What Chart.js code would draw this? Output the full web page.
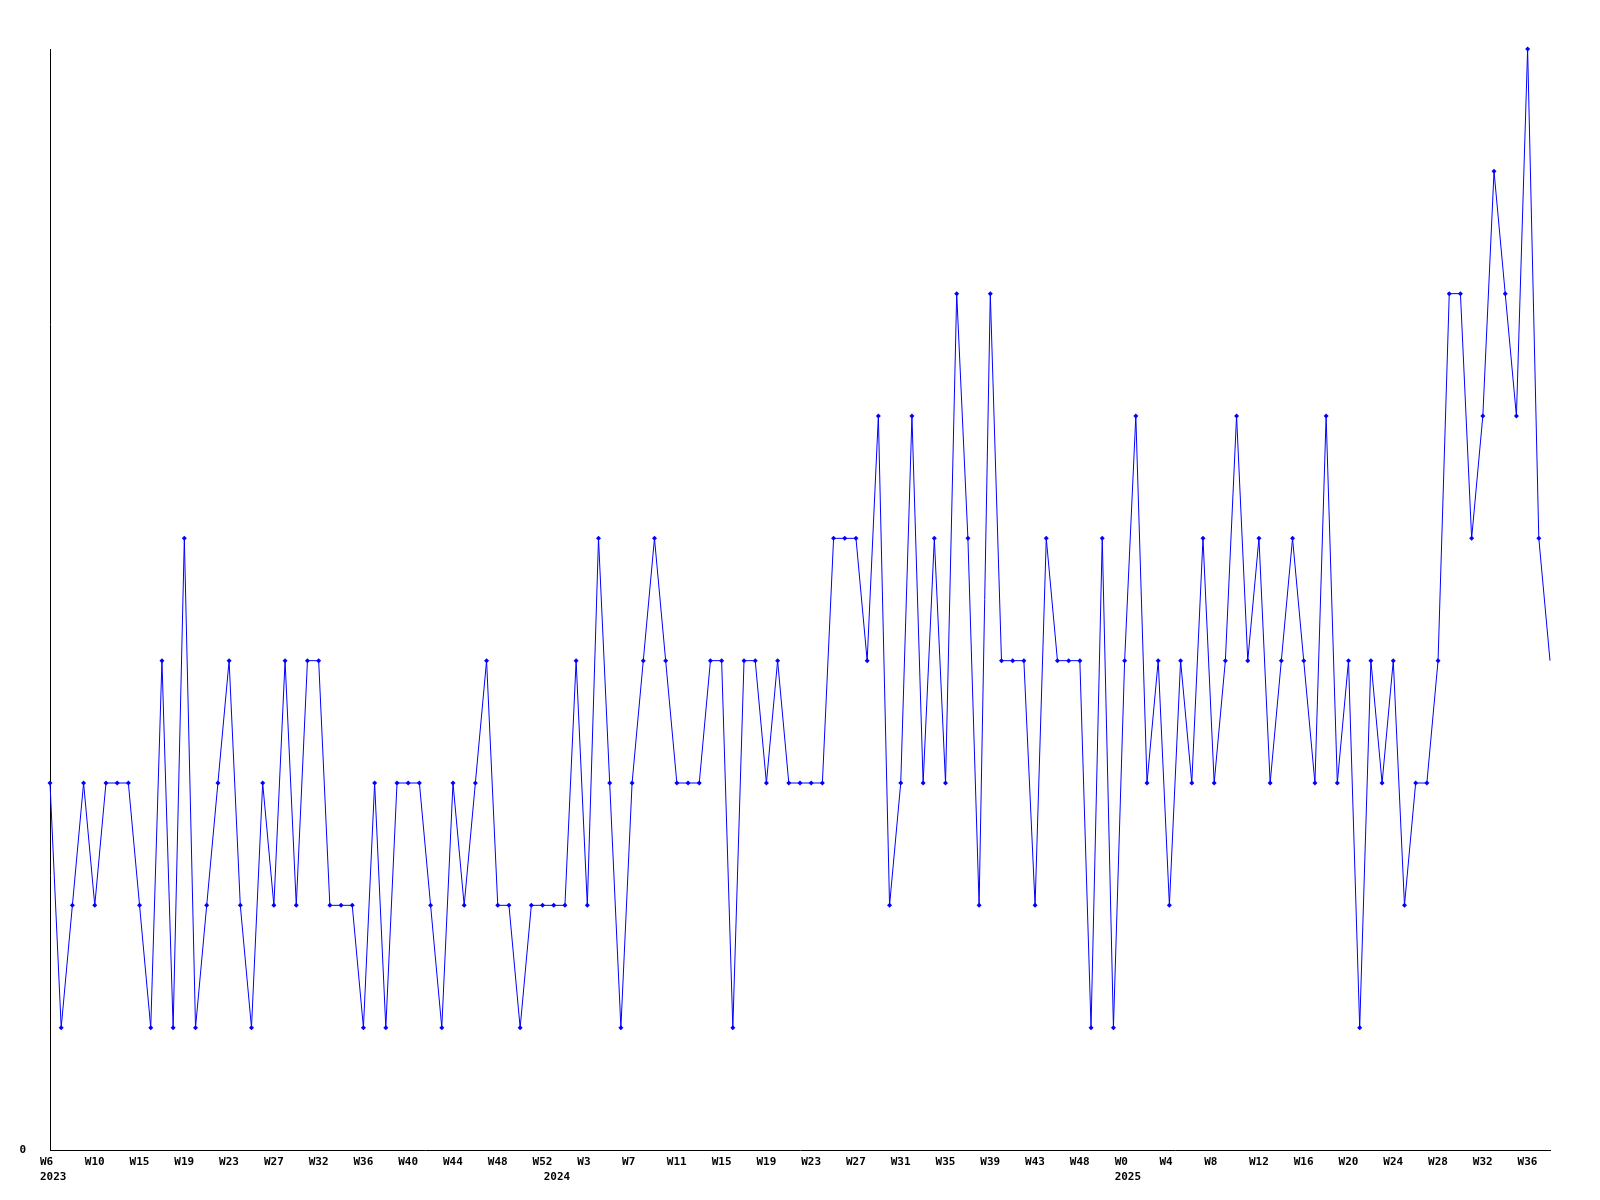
<!DOCTYPE html>
<html lang="en">
<head>
    <meta charset="UTF-8">
    <title>Weekly count</title>
    <script src="https://cdn.jsdelivr.net/npm/chart.js"></script>
    <style>
        body {
            margin: 0;
            padding: 0;
            background-color: #ffffff;
        }
        .chart-container {
            position: relative;
            width: 1600px;
            height: 1200px;
        }
    </style>
</head>
<body>

    <div class="chart-container">
        <canvas id="weekChart" width="1600" height="1200"></canvas>
    </div>

    <script>
        // Weekly values, one per week starting 2023 W6
        const weekValues = [
            3, 1, 2, 3, 2, 3, 3, 3, 2, 1,
            4, 1, 5, 1, 2, 3, 4, 2, 1, 3,
            2, 4, 2, 4, 4, 2, 2, 2, 1, 3,
            1, 3, 3, 3, 2, 1, 3, 2, 3, 4,
            2, 2, 1, 2, 2, 2, 2, 4, 2, 5,
            3, 1, 3, 4, 5, 4, 3, 3, 3, 4,
            4, 1, 4, 4, 3, 4, 3, 3, 3, 3,
            5, 5, 5, 4, 6, 2, 3, 6, 3, 5,
            3, 7, 5, 2, 7, 4, 4, 4, 2, 5,
            4, 4, 4, 1, 5, 1, 4, 6, 3, 4,
            2, 4, 3, 5, 3, 4, 6, 4, 5, 3,
            4, 5, 4, 3, 6, 3, 4, 1, 4, 3,
            4, 2, 3, 3, 4, 7, 7, 5, 6, 8,
            7, 6, 9, 5, 4
        ];

        // Tick labels, shown on every 4th week
        const weekTickLabels = [
            'W6', 'W10', 'W15', 'W19', 'W23', 'W27', 'W32', 'W36', 'W40', 'W44',
            'W48', 'W52', 'W3', 'W7', 'W11', 'W15', 'W19', 'W23', 'W27', 'W31',
            'W35', 'W39', 'W43', 'W48', 'W0', 'W4', 'W8', 'W12', 'W16', 'W20',
            'W24', 'W28', 'W32', 'W36'
        ];
        const tickEvery = 4;

        // Year labels and the week index where each year starts
        const yearLabels = ['2023', '2024', '2025'];
        const yearStartIndex = [0, 45, 96];

        const labels = weekValues.map((v, i) => i);

        function xLabel(index) {
            let week = (index % tickEvery === 0) ? (weekTickLabels[index / tickEvery] || '') : '';
            const y = yearStartIndex.indexOf(index);
            if (y >= 0) {
                return [week, yearLabels[y]];
            }
            return week;
        }

        const lastIndex = weekValues.length - 1;
        const tickFont = { family: 'DejaVu Sans Mono', size: 11, weight: 'bold', lineHeight: '15px' };

        const config = {
            type: 'line',
            data: {
                labels: labels,
                datasets: [{
                    data: weekValues,
                    borderColor: '#0000ff',
                    backgroundColor: '#0000ff',
                    borderWidth: 1,
                    tension: 0,
                    fill: false,
                    clip: false,
                    pointStyle: 'rectRot',
                    pointRadius: (ctx) => ctx.dataIndex === lastIndex ? 0 : 2.5,
                    pointBorderWidth: 0,
                    pointBackgroundColor: '#0000ff'
                }]
            },
            options: {
                responsive: false,
                animation: false,
                layout: {
                    padding: { top: 49, right: 50, left: 0, bottom: 0 }
                },
                plugins: {
                    legend: { display: false },
                    tooltip: { enabled: false }
                },
                scales: {
                    x: {
                        type: 'category',
                        offset: false,
                        grid: { display: false, drawTicks: false },
                        border: { display: true, color: '#000000', width: 1 },
                        afterFit: (axis) => { axis.height = 50; },
                        ticks: {
                            autoSkip: false,
                            maxRotation: 0,
                            minRotation: 0,
                            align: 'start',
                            labelOffset: -10,
                            padding: 5,
                            color: '#000000',
                            font: tickFont,
                            callback: (value, index) => xLabel(index)
                        }
                    },
                    y: {
                        min: 0,
                        max: 9,
                        grid: { display: false, drawTicks: false },
                        border: { display: true, color: '#000000', width: 1 },
                        afterFit: (axis) => { axis.width = 50; },
                        ticks: {
                            stepSize: 1,
                            padding: 24,
                            color: '#000000',
                            font: tickFont,
                            callback: (value) => value === 0 ? '0' : ''
                        }
                    }
                }
            }
        };

        const weekChart = new Chart(
            document.getElementById('weekChart'),
            config
        );
    </script>

</body>
</html>
